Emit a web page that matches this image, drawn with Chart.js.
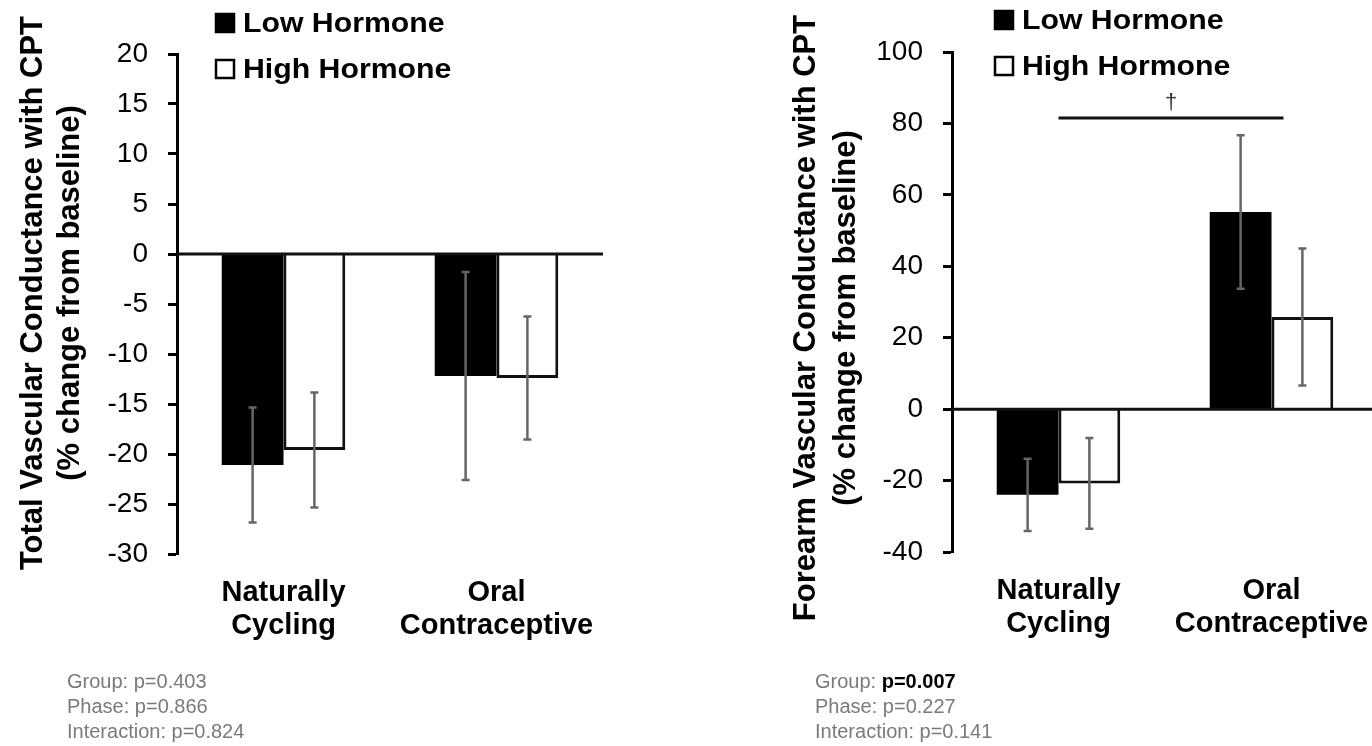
<!DOCTYPE html>
<html>
<head>
<meta charset="utf-8">
<script src="https://cdn.jsdelivr.net/npm/chart.js@4.4.1/dist/chart.umd.min.js"></script>
<style>
html, body { margin: 0; padding: 0; background: #fff; overflow: hidden; width: 1372px; height: 746px; }
.panel { position: absolute; top: 0; }
.stats { position: absolute; top: 669px; font: 20px "Liberation Sans", Arial, sans-serif; color: #7a7a7a; line-height: 25px; white-space: nowrap; }
.stats b { color: #000; }
</style>
</head>
<body>
<div class="panel" style="left:0"><canvas id="tvc" width="686" height="746"></canvas></div>
<div class="panel" style="left:686px"><canvas id="fvc" width="700" height="746"></canvas></div>
<div class="stats" id="tvcStats" style="left:67px"></div>
<div class="stats" id="fvcStats" style="left:815px"></div>
<script>
// categories and series
const categories = [['Naturally', 'Cycling'], ['Oral', 'Contraceptive']];
const seriesNames = ['Low Hormone', 'High Hormone'];

// total vascular conductance (left panel)
const tvcLow = [-21.1, -12.2];
const tvcLowErr = [5.75, 10.4];
const tvcHigh = [-19.6, -12.4];
const tvcHighErr = [5.75, 6.15];
const tvcTicks = { min: -30, max: 20, step: 5 };

// forearm vascular conductance (right panel)
const fvcLow = [-24.0, 55.2];
const fvcLowErr = [10.1, 21.5];
const fvcHigh = [-20.8, 25.8];
const fvcHighErr = [12.7, 19.2];
const fvcTicks = { min: -40, max: 100, step: 20 };
const fvcSig = { from: 0, to: 1, value: 81.5, mark: '\u2020' };

// stats under each panel
const statNames = ['Group', 'Phase', 'Interaction'];
const tvcP = ['0.403', '0.866', '0.824'];
const fvcP = ['0.007', '0.227', '0.141'];

const FONT = '"Liberation Sans", Arial, sans-serif';
Chart.defaults.font.family = FONT;
Chart.defaults.color = '#000';

const decor = {
    id: 'decor',
    afterDatasetsDraw(chart, args, o) {
        const ctx = chart.ctx;
        const y = chart.scales.y;
        const area = chart.chartArea;

        // error bars
        chart.data.datasets.forEach((ds, i) => {
            chart.getDatasetMeta(i).data.forEach((bar, j) => {
                const top = y.getPixelForValue(ds.data[j] + ds.errors[j]);
                const bot = y.getPixelForValue(ds.data[j] - ds.errors[j]);
                ctx.save();
                ctx.strokeStyle = '#666';
                ctx.lineWidth = 2.5;
                ctx.beginPath();
                ctx.moveTo(bar.x, top); ctx.lineTo(bar.x, bot);
                ctx.moveTo(bar.x - 4, top); ctx.lineTo(bar.x + 4, top);
                ctx.moveTo(bar.x - 4, bot); ctx.lineTo(bar.x + 4, bot);
                ctx.stroke();
                ctx.restore();
            });
        });

        // zero line
        const zy = y.getPixelForValue(0);
        ctx.save();
        ctx.strokeStyle = '#111';
        ctx.lineWidth = 3;
        ctx.beginPath();
        ctx.moveTo(area.left, zy);
        ctx.lineTo(o.zeroToEdge ? chart.width : area.right, zy);
        ctx.stroke();
        ctx.restore();
    },
    afterDraw(chart, args, o) {
        const ctx = chart.ctx;

        // rotated y title
        ctx.save();
        ctx.font = 'bold 31px ' + FONT;
        ctx.fillStyle = '#000';
        ctx.textAlign = 'center';
        ctx.textBaseline = 'middle';
        o.title.lines.forEach((line, i) => {
            ctx.save();
            ctx.translate(o.title.x[i], o.title.cy);
            ctx.rotate(-Math.PI / 2);
            ctx.fillText(line, 0, 0);
            ctx.restore();
        });
        ctx.restore();

        // legend (text a little wider, like the source figure)
        ctx.save();
        ctx.font = 'bold 28px ' + FONT;
        ctx.textBaseline = 'middle';
        chart.data.datasets.forEach((ds, i) => {
            const cy = o.legend.y + i * o.legend.gap;
            ctx.fillStyle = ds.backgroundColor;
            ctx.fillRect(o.legend.x, cy - 9, 18, 18);
            ctx.strokeStyle = '#000';
            ctx.lineWidth = 2.5;
            ctx.strokeRect(o.legend.x, cy - 9, 18, 18);
            ctx.fillStyle = '#000';
            ctx.save();
            ctx.translate(o.legend.x + 27, cy + 1);
            ctx.scale(1.08, 1);
            ctx.fillText(ds.label, 0, 0);
            ctx.restore();
        });
        ctx.restore();

        // significance bar
        if (o.sig) {
            const x = chart.scales.x, y = chart.scales.y;
            const x0 = x.getPixelForValue(o.sig.from);
            const x1 = x.getPixelForValue(o.sig.to) + 12;
            const sy = y.getPixelForValue(o.sig.value);
            ctx.save();
            ctx.strokeStyle = '#111';
            ctx.lineWidth = 3;
            ctx.beginPath();
            ctx.moveTo(x0, sy); ctx.lineTo(x1, sy);
            ctx.stroke();
            ctx.fillStyle = '#333';
            ctx.font = '22px ' + FONT;
            ctx.textAlign = 'center';
            ctx.textBaseline = 'bottom';
            ctx.fillText(o.sig.mark, (x0 + x1) / 2, sy - 4);
            ctx.restore();
        }
    }
};

function makeChart(id, low, lowErr, high, highErr, ticks, p) {
    return new Chart(document.getElementById(id), {
        type: 'bar',
        data: {
            labels: categories,
            datasets: [
                { label: seriesNames[0], data: low, errors: lowErr, backgroundColor: '#000', borderColor: '#000', borderWidth: 0 },
                { label: seriesNames[1], data: high, errors: highErr, backgroundColor: '#fff', borderColor: '#111', borderWidth: 3 }
            ]
        },
        options: {
            responsive: false,
            animation: false,
            layout: { padding: { left: 0, top: p.top, right: p.right, bottom: 0 } },
            datasets: { bar: { categoryPercentage: 0.58, barPercentage: 1 } },
            plugins: {
                legend: { display: false },
                tooltip: { enabled: false },
                decor: p.decor
            },
            scales: {
                x: {
                    grid: { display: false },
                    border: { display: false },
                    ticks: { font: { size: 29, weight: 'bold', lineHeight: 1.15 }, color: '#000', padding: 14, maxRotation: 0, autoSkip: false },
                    afterFit: s => { s.height = p.xHeight; }
                },
                y: {
                    min: ticks.min,
                    max: ticks.max,
                    ticks: { stepSize: ticks.step, font: { size: 28 }, color: '#000', padding: 20 },
                    grid: { drawOnChartArea: false, drawTicks: true, tickLength: 9, tickWidth: 3, tickColor: '#000' },
                    border: { display: true, color: '#000', width: 3 },
                    afterFit: s => { s.width = p.yWidth; }
                }
            }
        },
        plugins: [decor]
    });
}

makeChart('tvc', tvcLow, tvcLowErr, tvcHigh, tvcHighErr, tvcTicks, {
    top: 54, right: 83, xHeight: 192, yWidth: 177,
    decor: {
        zeroToEdge: false,
        title: { lines: ['Total Vascular Conductance with CPT', '(% change from baseline)'], x: [33, 70], cy: 293 },
        legend: { x: 216, y: 23, gap: 46 }
    }
});

makeChart('fvc', fvcLow, fvcLowErr, fvcHigh, fvcHighErr, fvcTicks, {
    top: 52, right: 8, xHeight: 194, yWidth: 266,
    decor: {
        zeroToEdge: true,
        title: { lines: ['Forearm Vascular Conductance with CPT', '(% change from baseline)'], x: [120, 160], cy: 318 },
        legend: { x: 309, y: 20, gap: 46 },
        sig: fvcSig
    }
});

function fillStats(id, pvals) {
    document.getElementById(id).innerHTML = statNames.map((n, i) => {
        const txt = 'p=' + pvals[i];
        return n + ': ' + (parseFloat(pvals[i]) < 0.05 ? '<b>' + txt + '</b>' : txt);
    }).join('<br>');
}
fillStats('tvcStats', tvcP);
fillStats('fvcStats', fvcP);
</script>
</body>
</html>
